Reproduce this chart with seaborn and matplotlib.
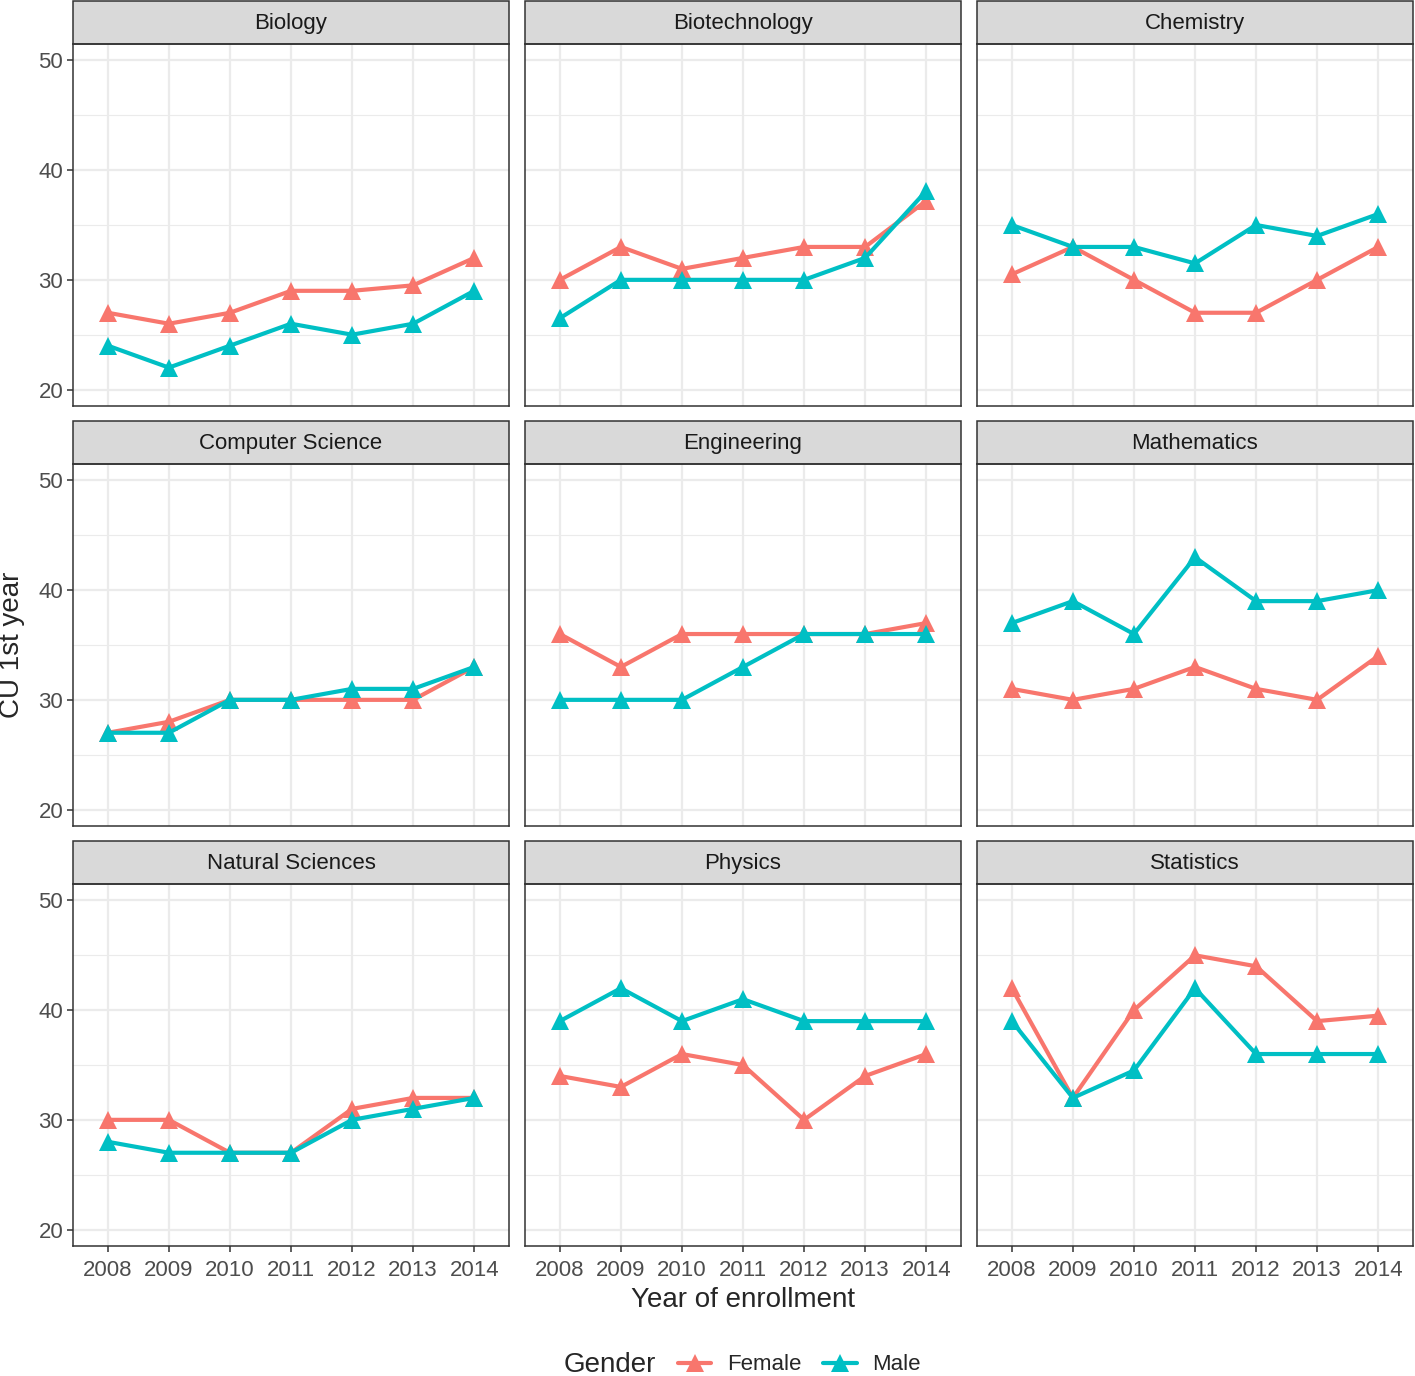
import pandas as pd
import seaborn as sns
import matplotlib.pyplot as plt
from matplotlib.lines import Line2D
from matplotlib.patches import Rectangle
from matplotlib.ticker import MultipleLocator

# Values
years = [2008, 2009, 2010, 2011, 2012, 2013, 2014]
fields = ['Biology', 'Biotechnology', 'Chemistry',
          'Computer Science', 'Engineering', 'Mathematics',
          'Natural Sciences', 'Physics', 'Statistics']
genders = ['Female', 'Male']

biology_f = [27, 26, 27, 29, 29, 29.5, 32]
biology_m = [24, 22, 24, 26, 25, 26, 29]
biotech_f = [30, 33, 31, 32, 33, 33, 37.2]
biotech_m = [26.5, 30, 30, 30, 30, 32, 38.1]
chemistry_f = [30.5, 33, 30, 27, 27, 30, 33]
chemistry_m = [35, 33, 33, 31.5, 35, 34, 36]
compsci_f = [27, 28, 30, 30, 30, 30, 33]
compsci_m = [27, 27, 30, 30, 31, 31, 33]
engineering_f = [36, 33, 36, 36, 36, 36, 37]
engineering_m = [30, 30, 30, 33, 36, 36, 36]
maths_f = [31, 30, 31, 33, 31, 30, 34]
maths_m = [37, 39, 36, 43, 39, 39, 40]
natsci_f = [30, 30, 27, 27, 31, 32, 32]
natsci_m = [28, 27, 27, 27, 30, 31, 32]
physics_f = [34, 33, 36, 35, 30, 34, 36]
physics_m = [39, 42, 39, 41, 39, 39, 39]
stats_f = [42, 32, 40, 45, 44, 39, 39.5]
stats_m = [39, 32, 34.5, 42, 36, 36, 36]

female_vals = [biology_f, biotech_f, chemistry_f, compsci_f, engineering_f,
               maths_f, natsci_f, physics_f, stats_f]
male_vals = [biology_m, biotech_m, chemistry_m, compsci_m, engineering_m,
             maths_m, natsci_m, physics_m, stats_m]

colors = {'Female': '#F8766D', 'Male': '#00BFC4'}

# Build long dataframe
rows = []
for field, fv, mv in zip(fields, female_vals, male_vals):
    for y, f, m in zip(years, fv, mv):
        rows.append((field, 'Female', y, f))
        rows.append((field, 'Male', y, m))
df = pd.DataFrame(rows, columns=['Field', 'Gender', 'Year', 'CU'])

sns.set_theme(style='white')
plt.rcParams['font.family'] = ['Liberation Sans', 'DejaVu Sans']

g = sns.relplot(data=df, x='Year', y='CU', hue='Gender', col='Field',
                col_wrap=3, col_order=fields, hue_order=genders,
                palette=colors, kind='line', marker='^', markersize=13,
                markeredgewidth=0, linewidth=3.0, legend=False,
                height=4, aspect=1.2,
                facet_kws={'sharex': True, 'sharey': True})

fig = g.figure
fig.set_size_inches(14.15, 13.76)
fig.subplots_adjust(left=73 / 1415, right=1413 / 1415,
                    top=1 - 44 / 1376, bottom=1 - 1246 / 1376,
                    wspace=16 / 436, hspace=58 / 362)

strip_h = 43 / 362
axes = g.axes.flatten()
for i, (ax, field) in enumerate(zip(axes, fields)):
    ax.set_title('')
    ax.set_xlabel('')
    ax.set_ylabel('')
    ax.set_xlim(2007.43, 2014.57)
    ax.set_ylim(18.5, 51.5)
    ax.set_xticks(years)
    ax.yaxis.set_major_locator(MultipleLocator(10))
    ax.yaxis.set_minor_locator(MultipleLocator(5))
    ax.grid(True, which='major', color='#EBEBEB', linewidth=1.6, zorder=0)
    ax.grid(True, which='minor', axis='y', color='#EBEBEB', linewidth=0.8, zorder=0)
    ax.set_axisbelow(True)
    for sp in ax.spines.values():
        sp.set_visible(True)
        sp.set_color('#333333')
        sp.set_linewidth(1.1)

    left_col = i % 3 == 0
    bottom_row = i >= 6
    ax.tick_params(axis='y', which='major', length=4 if left_col else 0,
                   width=1.1, color='#333333', labelsize=16,
                   labelcolor='#4D4D4D', pad=3, labelleft=left_col, left=left_col)
    ax.tick_params(axis='y', which='minor', length=0)
    ax.tick_params(axis='x', which='major', length=4 if bottom_row else 0,
                   width=1.1, color='#333333', labelsize=16,
                   labelcolor='#4D4D4D', pad=6, labelbottom=bottom_row,
                   bottom=bottom_row)

    # ggplot-like strip
    ax.add_patch(Rectangle((0, 1), 1, strip_h, transform=ax.transAxes,
                           clip_on=False, facecolor='#D9D9D9',
                           edgecolor='#333333', linewidth=1.1))
    ax.text(0.5, 1 + strip_h / 2 - 0.004, field, transform=ax.transAxes,
            ha='center', va='center', fontsize=16, color='#1A1A1A')

fig.text(12 / 1415, 1 - 645 / 1376, 'CU 1st year', rotation=90,
         ha='center', va='center', fontsize=20)
fig.text(743 / 1415, 1 - 1300 / 1376, 'Year of enrollment',
         ha='center', va='center', fontsize=20)

# Legend at the bottom with title on the left
fig.text(610 / 1415, 1 - 1365 / 1376, 'Gender', ha='center', va='center',
         fontsize=20)
handles = [Line2D([0], [0], color=colors[s], linewidth=3.0, marker='^',
                  markersize=13, markeredgewidth=0) for s in genders]
fig.legend(handles, genders, loc='center left', ncol=2, frameon=False,
           bbox_to_anchor=(658 / 1415, 1 - 1365 / 1376), fontsize=16,
           handlelength=1.5, columnspacing=1.0, handletextpad=0.7)

fig.savefig('out.png', dpi=100)
